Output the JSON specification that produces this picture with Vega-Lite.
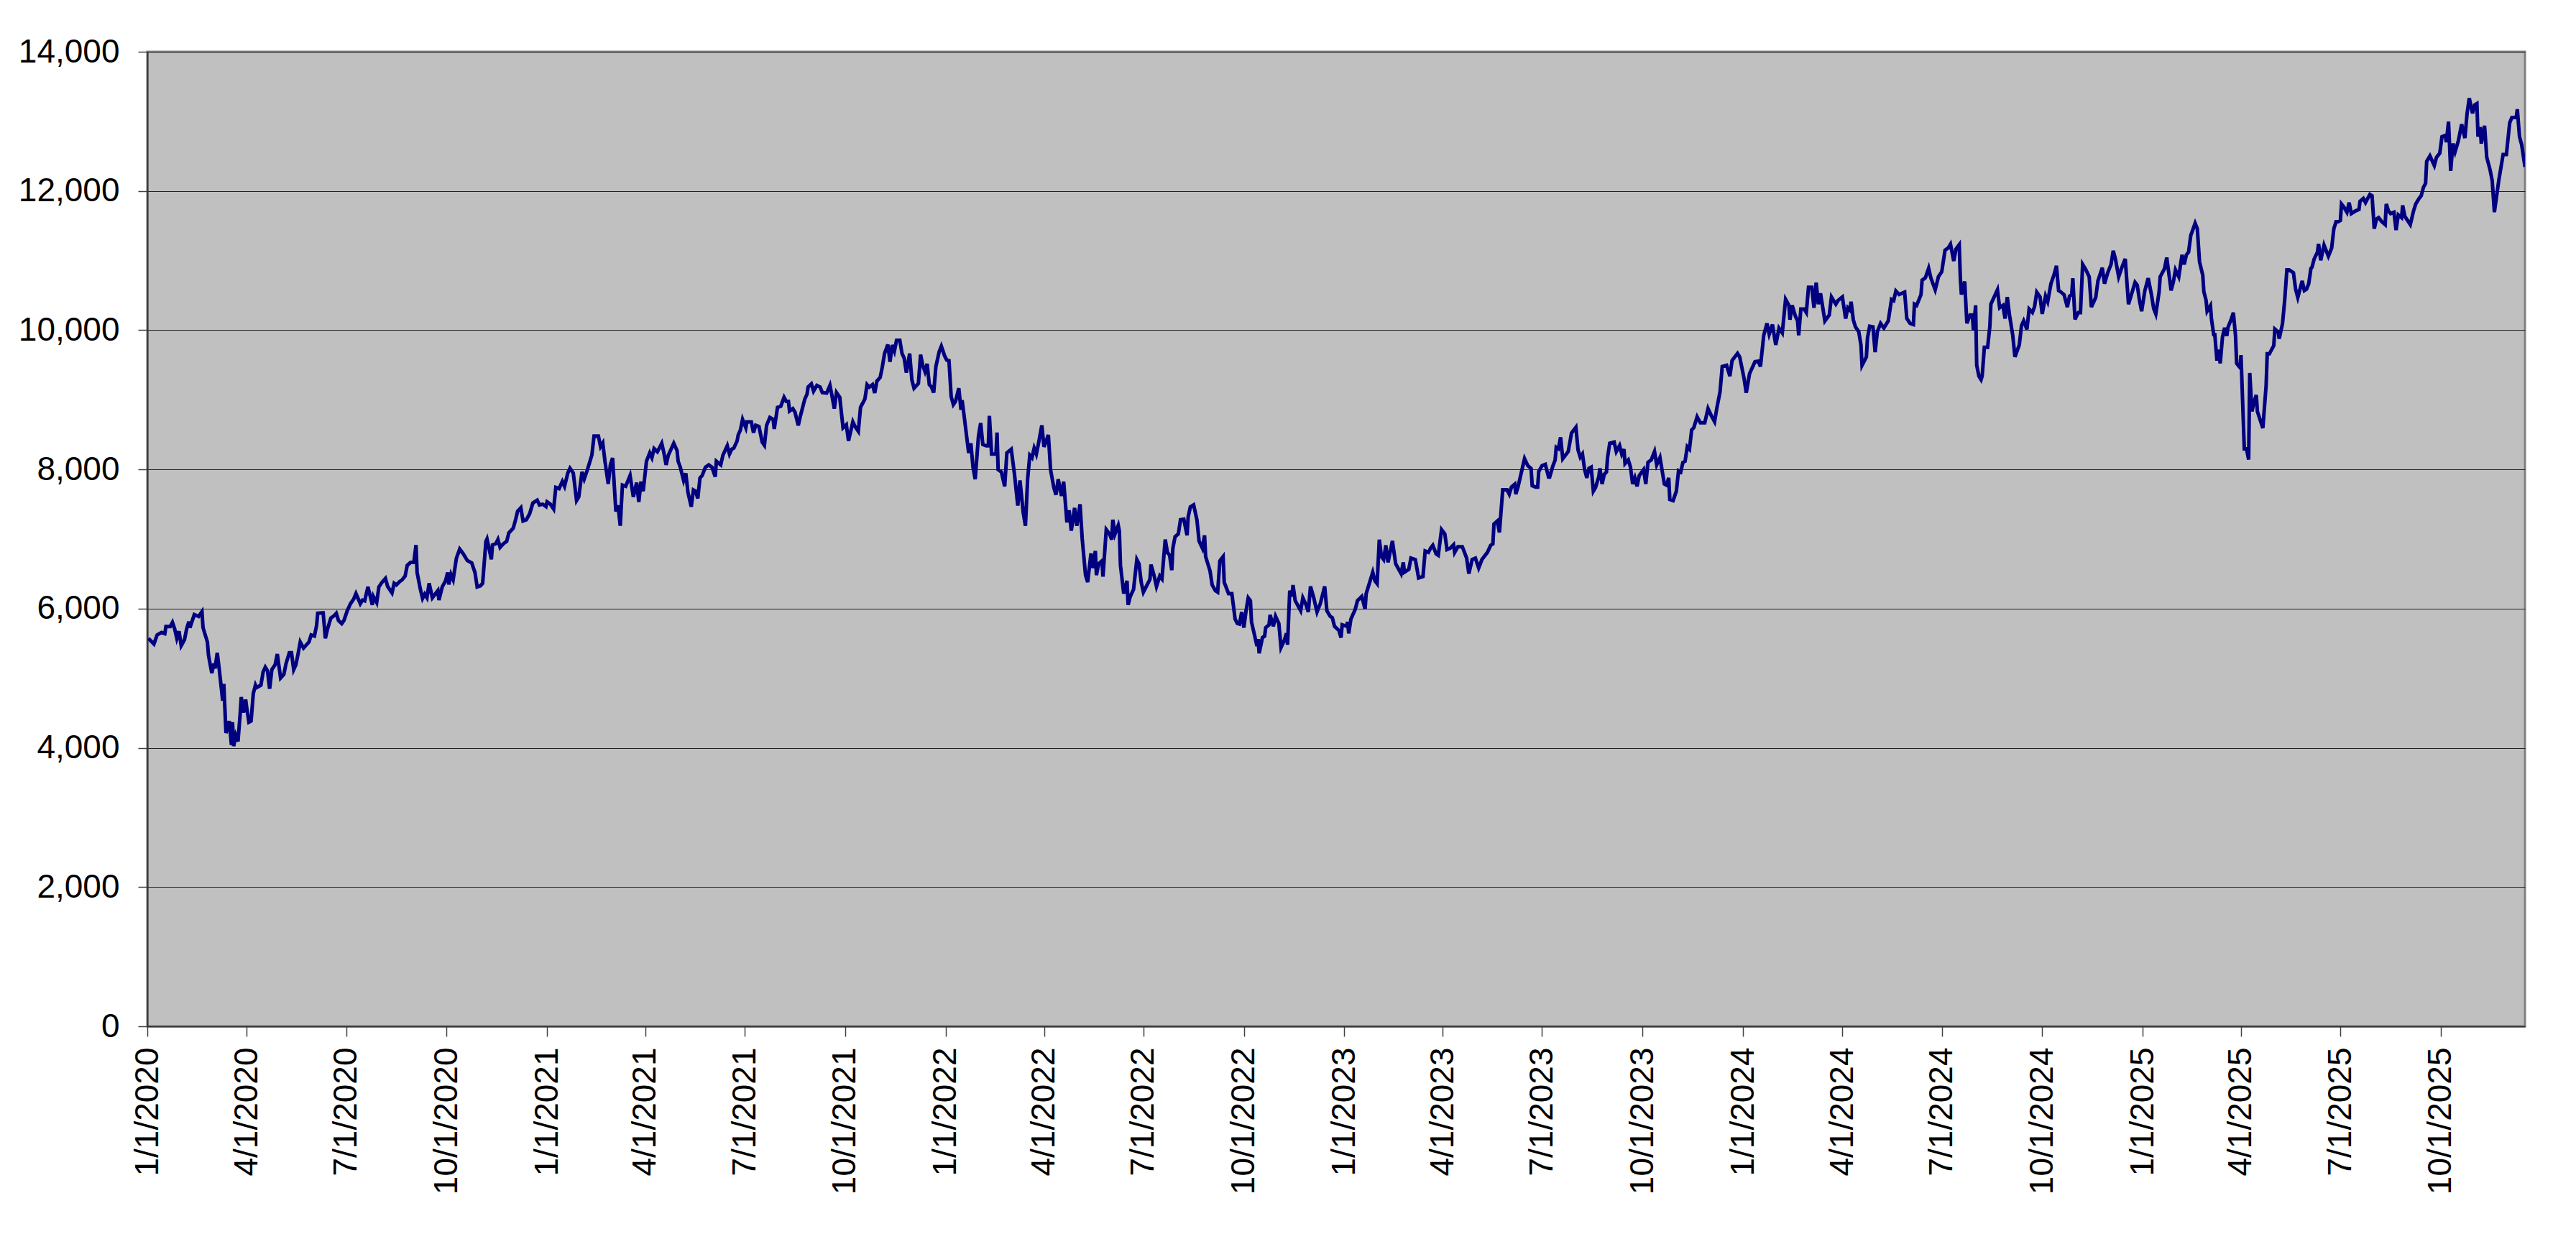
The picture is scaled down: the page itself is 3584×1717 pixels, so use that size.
{
  "$schema": "https://vega.github.io/schema/vega-lite/v6.json",
  "width": 3308,
  "height": 1356,
  "autosize": "none",
  "padding": {"left": 205, "top": 72, "right": 71, "bottom": 289},
  "background": "white",
  "data": {
    "values": [
      {"date":"2020-01-02","value":5572},{"date":"2020-01-07","value":5492},{"date":"2020-01-10","value":5623},{"date":"2020-01-14","value":5657},
      {"date":"2020-01-17","value":5640},{"date":"2020-01-18","value":5743},{"date":"2020-01-22","value":5743},{"date":"2020-01-24","value":5802},
      {"date":"2020-01-26","value":5709},{"date":"2020-01-28","value":5572},{"date":"2020-01-30","value":5675},{"date":"2020-02-01","value":5468},
      {"date":"2020-02-04","value":5554},{"date":"2020-02-06","value":5709},{"date":"2020-02-08","value":5812},{"date":"2020-02-09","value":5726},
      {"date":"2020-02-13","value":5915},{"date":"2020-02-17","value":5888},{"date":"2020-02-20","value":5957},{"date":"2020-02-21","value":5726},
      {"date":"2020-02-25","value":5520},{"date":"2020-02-26","value":5331},{"date":"2020-02-29","value":5073},{"date":"2020-03-02","value":5210},
      {"date":"2020-03-03","value":5141},{"date":"2020-03-05","value":5365},{"date":"2020-03-07","value":5107},{"date":"2020-03-10","value":4677},
      {"date":"2020-03-11","value":4918},{"date":"2020-03-13","value":4213},{"date":"2020-03-15","value":4316},{"date":"2020-03-16","value":4385},
      {"date":"2020-03-18","value":4041},{"date":"2020-03-19","value":4368},{"date":"2020-03-20","value":4024},{"date":"2020-03-22","value":4179},
      {"date":"2020-03-24","value":4093},{"date":"2020-03-26","value":4488},{"date":"2020-03-27","value":4729},{"date":"2020-03-29","value":4505},
      {"date":"2020-03-31","value":4694},{"date":"2020-04-01","value":4574},{"date":"2020-04-03","value":4368},{"date":"2020-04-05","value":4385},
      {"date":"2020-04-07","value":4780},{"date":"2020-04-09","value":4901},{"date":"2020-04-10","value":4866},{"date":"2020-04-14","value":4901},
      {"date":"2020-04-16","value":5090},{"date":"2020-04-18","value":5159},{"date":"2020-04-20","value":5107},{"date":"2020-04-22","value":4849},
      {"date":"2020-04-24","value":5124},{"date":"2020-04-27","value":5193},{"date":"2020-04-29","value":5348},{"date":"2020-05-02","value":5004},
      {"date":"2020-05-05","value":5056},{"date":"2020-05-07","value":5210},{"date":"2020-05-10","value":5365},{"date":"2020-05-12","value":5365},
      {"date":"2020-05-14","value":5124},{"date":"2020-05-16","value":5193},{"date":"2020-05-18","value":5348},{"date":"2020-05-20","value":5520},
      {"date":"2020-05-23","value":5434},{"date":"2020-05-26","value":5486},{"date":"2020-05-28","value":5520},{"date":"2020-05-30","value":5623},
      {"date":"2020-06-02","value":5606},{"date":"2020-06-04","value":5761},{"date":"2020-06-05","value":5933},{"date":"2020-06-09","value":5940},
      {"date":"2020-06-10","value":5940},{"date":"2020-06-12","value":5572},{"date":"2020-06-14","value":5709},{"date":"2020-06-17","value":5864},
      {"date":"2020-06-20","value":5898},{"date":"2020-06-22","value":5933},{"date":"2020-06-24","value":5830},{"date":"2020-06-27","value":5785},
      {"date":"2020-06-29","value":5830},{"date":"2020-07-02","value":5968},{"date":"2020-07-05","value":6071},{"date":"2020-07-08","value":6140},
      {"date":"2020-07-10","value":6216},{"date":"2020-07-14","value":6071},{"date":"2020-07-16","value":6123},{"date":"2020-07-18","value":6112},
      {"date":"2020-07-21","value":6312},{"date":"2020-07-25","value":6054},{"date":"2020-07-26","value":6175},{"date":"2020-07-29","value":6088},
      {"date":"2020-07-31","value":6312},{"date":"2020-08-03","value":6381},{"date":"2020-08-06","value":6433},{"date":"2020-08-08","value":6319},
      {"date":"2020-08-12","value":6226},{"date":"2020-08-14","value":6364},{"date":"2020-08-16","value":6340},{"date":"2020-08-19","value":6388},
      {"date":"2020-08-21","value":6409},{"date":"2020-08-24","value":6467},{"date":"2020-08-26","value":6622},{"date":"2020-08-29","value":6664},
      {"date":"2020-09-01","value":6664},{"date":"2020-09-03","value":6915},{"date":"2020-09-04","value":6519},{"date":"2020-09-07","value":6278},
      {"date":"2020-09-09","value":6147},{"date":"2020-09-11","value":6209},{"date":"2020-09-13","value":6157},{"date":"2020-09-15","value":6364},
      {"date":"2020-09-18","value":6157},{"date":"2020-09-23","value":6260},{"date":"2020-09-24","value":6123},{"date":"2020-09-27","value":6312},
      {"date":"2020-09-30","value":6398},{"date":"2020-10-02","value":6519},{"date":"2020-10-03","value":6347},{"date":"2020-10-05","value":6491},
      {"date":"2020-10-07","value":6416},{"date":"2020-10-10","value":6725},{"date":"2020-10-13","value":6856},{"date":"2020-10-16","value":6794},
      {"date":"2020-10-20","value":6691},{"date":"2020-10-24","value":6657},{"date":"2020-10-27","value":6519},{"date":"2020-10-29","value":6312},
      {"date":"2020-11-01","value":6329},{"date":"2020-11-03","value":6364},{"date":"2020-11-06","value":6966},{"date":"2020-11-07","value":7001},
      {"date":"2020-11-11","value":6708},{"date":"2020-11-12","value":6915},{"date":"2020-11-15","value":6932},{"date":"2020-11-17","value":6994},
      {"date":"2020-11-19","value":6880},{"date":"2020-11-22","value":6932},{"date":"2020-11-25","value":6966},{"date":"2020-11-27","value":7087},
      {"date":"2020-12-01","value":7156},{"date":"2020-12-03","value":7266},{"date":"2020-12-05","value":7397},{"date":"2020-12-08","value":7449},
      {"date":"2020-12-10","value":7259},{"date":"2020-12-13","value":7276},{"date":"2020-12-16","value":7362},{"date":"2020-12-19","value":7517},
      {"date":"2020-12-23","value":7559},{"date":"2020-12-25","value":7490},{"date":"2020-12-28","value":7500},{"date":"2020-12-31","value":7466},
      {"date":"2021-01-01","value":7535},{"date":"2021-01-04","value":7500},{"date":"2021-01-07","value":7431},{"date":"2021-01-09","value":7741},
      {"date":"2021-01-12","value":7724},{"date":"2021-01-15","value":7827},{"date":"2021-01-17","value":7758},{"date":"2021-01-20","value":7948},
      {"date":"2021-01-22","value":8017},{"date":"2021-01-25","value":7948},{"date":"2021-01-28","value":7552},{"date":"2021-01-30","value":7604},
      {"date":"2021-02-02","value":7965},{"date":"2021-02-04","value":7862},{"date":"2021-02-07","value":7999},{"date":"2021-02-11","value":8205},
      {"date":"2021-02-13","value":8480},{"date":"2021-02-17","value":8480},{"date":"2021-02-19","value":8326},{"date":"2021-02-21","value":8378},
      {"date":"2021-02-23","value":8119},{"date":"2021-02-26","value":7792},{"date":"2021-02-28","value":8068},{"date":"2021-03-02","value":8164},
      {"date":"2021-03-05","value":7397},{"date":"2021-03-07","value":7483},{"date":"2021-03-09","value":7190},{"date":"2021-03-11","value":7775},
      {"date":"2021-03-14","value":7758},{"date":"2021-03-18","value":7913},{"date":"2021-03-21","value":7604},{"date":"2021-03-24","value":7810},
      {"date":"2021-03-26","value":7533},{"date":"2021-03-28","value":7825},{"date":"2021-03-30","value":7687},{"date":"2021-04-02","value":8117},
      {"date":"2021-04-05","value":8237},{"date":"2021-04-07","value":8168},{"date":"2021-04-09","value":8299},{"date":"2021-04-12","value":8254},
      {"date":"2021-04-14","value":8313},{"date":"2021-04-16","value":8375},{"date":"2021-04-18","value":8237},{"date":"2021-04-20","value":8065},
      {"date":"2021-04-22","value":8203},{"date":"2021-04-25","value":8306},{"date":"2021-04-27","value":8375},{"date":"2021-04-30","value":8272},
      {"date":"2021-05-01","value":8117},{"date":"2021-05-03","value":8031},{"date":"2021-05-06","value":7842},{"date":"2021-05-08","value":7945},
      {"date":"2021-05-10","value":7670},{"date":"2021-05-13","value":7464},{"date":"2021-05-15","value":7705},{"date":"2021-05-17","value":7687},
      {"date":"2021-05-19","value":7584},{"date":"2021-05-21","value":7877},{"date":"2021-05-23","value":7911},{"date":"2021-05-26","value":8031},
      {"date":"2021-05-29","value":8065},{"date":"2021-06-01","value":8031},{"date":"2021-06-04","value":7894},{"date":"2021-06-05","value":8117},
      {"date":"2021-06-09","value":8065},{"date":"2021-06-11","value":8203},{"date":"2021-06-14","value":8306},{"date":"2021-06-15","value":8340},
      {"date":"2021-06-17","value":8220},{"date":"2021-06-19","value":8289},{"date":"2021-06-21","value":8306},{"date":"2021-06-24","value":8409},
      {"date":"2021-06-25","value":8495},{"date":"2021-06-27","value":8564},{"date":"2021-06-29","value":8719},{"date":"2021-07-02","value":8598},
      {"date":"2021-07-03","value":8684},{"date":"2021-07-07","value":8684},{"date":"2021-07-09","value":8529},{"date":"2021-07-11","value":8633},
      {"date":"2021-07-14","value":8616},{"date":"2021-07-17","value":8392},{"date":"2021-07-19","value":8347},{"date":"2021-07-21","value":8633},
      {"date":"2021-07-24","value":8746},{"date":"2021-07-27","value":8719},{"date":"2021-07-28","value":8581},{"date":"2021-07-31","value":8891},
      {"date":"2021-08-03","value":8908},{"date":"2021-08-06","value":9035},{"date":"2021-08-08","value":8977},{"date":"2021-08-10","value":8977},
      {"date":"2021-08-11","value":8839},{"date":"2021-08-14","value":8873},{"date":"2021-08-16","value":8822},{"date":"2021-08-19","value":8633},
      {"date":"2021-08-21","value":8770},{"date":"2021-08-25","value":9011},{"date":"2021-08-27","value":9080},{"date":"2021-08-28","value":9183},
      {"date":"2021-08-31","value":9228},{"date":"2021-09-02","value":9125},{"date":"2021-09-05","value":9207},{"date":"2021-09-08","value":9183},
      {"date":"2021-09-10","value":9104},{"date":"2021-09-14","value":9097},{"date":"2021-09-17","value":9207},{"date":"2021-09-19","value":9046},
      {"date":"2021-09-21","value":8873},{"date":"2021-09-23","value":9104},{"date":"2021-09-26","value":9035},{"date":"2021-09-29","value":8598},
      {"date":"2021-10-02","value":8643},{"date":"2021-10-04","value":8409},{"date":"2021-10-08","value":8684},{"date":"2021-10-10","value":8616},
      {"date":"2021-10-13","value":8547},{"date":"2021-10-15","value":8891},{"date":"2021-10-19","value":9011},{"date":"2021-10-21","value":9218},
      {"date":"2021-10-23","value":9183},{"date":"2021-10-26","value":9218},{"date":"2021-10-28","value":9097},{"date":"2021-10-30","value":9269},
      {"date":"2021-11-02","value":9321},{"date":"2021-11-04","value":9476},{"date":"2021-11-06","value":9665},{"date":"2021-11-09","value":9793},
      {"date":"2021-11-11","value":9545},{"date":"2021-11-13","value":9786},{"date":"2021-11-15","value":9700},{"date":"2021-11-17","value":9855},
      {"date":"2021-11-20","value":9855},{"date":"2021-11-22","value":9665},{"date":"2021-11-24","value":9596},{"date":"2021-11-26","value":9390},
      {"date":"2021-11-29","value":9665},{"date":"2021-12-01","value":9287},{"date":"2021-12-03","value":9166},{"date":"2021-12-07","value":9235},
      {"date":"2021-12-09","value":9648},{"date":"2021-12-11","value":9493},{"date":"2021-12-13","value":9407},{"date":"2021-12-15","value":9517},
      {"date":"2021-12-17","value":9218},{"date":"2021-12-19","value":9183},{"date":"2021-12-21","value":9104},{"date":"2021-12-23","value":9476},
      {"date":"2021-12-26","value":9689},{"date":"2021-12-28","value":9769},{"date":"2021-12-31","value":9631},{"date":"2022-01-02","value":9569},
      {"date":"2022-01-04","value":9562},{"date":"2022-01-06","value":9046},{"date":"2022-01-08","value":8932},{"date":"2022-01-10","value":8977},
      {"date":"2022-01-13","value":9166},{"date":"2022-01-15","value":8856},{"date":"2022-01-16","value":8994},{"date":"2022-01-18","value":8753},
      {"date":"2022-01-22","value":8237},{"date":"2022-01-24","value":8375},{"date":"2022-01-26","value":8031},{"date":"2022-01-28","value":7859},
      {"date":"2022-01-31","value":8478},{"date":"2022-02-02","value":8667},{"date":"2022-02-04","value":8358},{"date":"2022-02-07","value":8340},
      {"date":"2022-02-09","value":8340},{"date":"2022-02-10","value":8770},{"date":"2022-02-12","value":8220},{"date":"2022-02-16","value":8220},
      {"date":"2022-02-17","value":8529},{"date":"2022-02-18","value":7997},{"date":"2022-02-21","value":7962},{"date":"2022-02-24","value":7756},
      {"date":"2022-02-26","value":8237},{"date":"2022-03-02","value":8289},{"date":"2022-03-05","value":7928},{"date":"2022-03-08","value":7481},
      {"date":"2022-03-10","value":7842},{"date":"2022-03-13","value":7378},{"date":"2022-03-15","value":7189},{"date":"2022-03-17","value":7859},
      {"date":"2022-03-19","value":8203},{"date":"2022-03-21","value":8168},{"date":"2022-03-23","value":8306},{"date":"2022-03-25","value":8220},
      {"date":"2022-03-27","value":8375},{"date":"2022-03-30","value":8633},{"date":"2022-04-01","value":8323},{"date":"2022-04-05","value":8495},
      {"date":"2022-04-07","value":7997},{"date":"2022-04-10","value":7739},{"date":"2022-04-12","value":7636},{"date":"2022-04-14","value":7859},
      {"date":"2022-04-17","value":7619},{"date":"2022-04-19","value":7825},{"date":"2022-04-22","value":7240},{"date":"2022-04-24","value":7412},
      {"date":"2022-04-26","value":7120},{"date":"2022-04-29","value":7447},{"date":"2022-05-01","value":7189},{"date":"2022-05-04","value":7499},
      {"date":"2022-05-06","value":7000},{"date":"2022-05-09","value":6483},{"date":"2022-05-11","value":6380},{"date":"2022-05-14","value":6793},
      {"date":"2022-05-16","value":6584},{"date":"2022-05-18","value":6828},{"date":"2022-05-19","value":6481},{"date":"2022-05-21","value":6644},
      {"date":"2022-05-24","value":6686},{"date":"2022-05-25","value":6461},{"date":"2022-05-28","value":7135},{"date":"2022-05-31","value":7073},
      {"date":"2022-06-02","value":6992},{"date":"2022-06-03","value":7277},{"date":"2022-06-05","value":7073},{"date":"2022-06-08","value":7196},
      {"date":"2022-06-09","value":7114},{"date":"2022-06-10","value":6624},{"date":"2022-06-13","value":6216},{"date":"2022-06-16","value":6400},
      {"date":"2022-06-17","value":6053},{"date":"2022-06-19","value":6175},{"date":"2022-06-22","value":6277},{"date":"2022-06-25","value":6705},
      {"date":"2022-06-27","value":6644},{"date":"2022-06-29","value":6379},{"date":"2022-07-01","value":6237},{"date":"2022-07-03","value":6298},
      {"date":"2022-07-07","value":6420},{"date":"2022-07-08","value":6633},{"date":"2022-07-11","value":6461},{"date":"2022-07-13","value":6319},
      {"date":"2022-07-16","value":6469},{"date":"2022-07-18","value":6428},{"date":"2022-07-21","value":6992},{"date":"2022-07-23","value":6808},
      {"date":"2022-07-25","value":6767},{"date":"2022-07-27","value":6551},{"date":"2022-07-28","value":6869},{"date":"2022-07-30","value":7033},
      {"date":"2022-08-02","value":7073},{"date":"2022-08-04","value":7277},{"date":"2022-08-07","value":7285},{"date":"2022-08-10","value":7053},
      {"date":"2022-08-11","value":7318},{"date":"2022-08-13","value":7461},{"date":"2022-08-16","value":7490},{"date":"2022-08-19","value":7277},
      {"date":"2022-08-21","value":6972},{"date":"2022-08-24","value":6869},{"date":"2022-08-26","value":7053},{"date":"2022-08-27","value":6747},
      {"date":"2022-08-31","value":6542},{"date":"2022-09-02","value":6339},{"date":"2022-09-05","value":6257},{"date":"2022-09-07","value":6237},
      {"date":"2022-09-09","value":6686},{"date":"2022-09-12","value":6747},{"date":"2022-09-13","value":6379},{"date":"2022-09-15","value":6298},
      {"date":"2022-09-17","value":6216},{"date":"2022-09-20","value":6216},{"date":"2022-09-23","value":5849},{"date":"2022-09-25","value":5788},
      {"date":"2022-09-27","value":5779},{"date":"2022-09-29","value":5951},{"date":"2022-10-01","value":5727},{"date":"2022-10-03","value":5971},
      {"date":"2022-10-05","value":6155},{"date":"2022-10-07","value":6114},{"date":"2022-10-08","value":5808},{"date":"2022-10-11","value":5604},
      {"date":"2022-10-13","value":5461},{"date":"2022-10-14","value":5563},{"date":"2022-10-15","value":5359},{"date":"2022-10-18","value":5584},
      {"date":"2022-10-20","value":5604},{"date":"2022-10-21","value":5727},{"date":"2022-10-24","value":5767},{"date":"2022-10-25","value":5910},
      {"date":"2022-10-28","value":5747},{"date":"2022-10-30","value":5890},{"date":"2022-11-02","value":5788},{"date":"2022-11-04","value":5441},
      {"date":"2022-11-07","value":5543},{"date":"2022-11-09","value":5644},{"date":"2022-11-10","value":5482},{"date":"2022-11-12","value":6257},
      {"date":"2022-11-14","value":6175},{"date":"2022-11-15","value":6339},{"date":"2022-11-17","value":6114},{"date":"2022-11-22","value":5971},
      {"date":"2022-11-24","value":6155},{"date":"2022-11-27","value":6053},{"date":"2022-11-29","value":5951},{"date":"2022-12-01","value":6319},
      {"date":"2022-12-04","value":6155},{"date":"2022-12-07","value":5951},{"date":"2022-12-10","value":6073},{"date":"2022-12-14","value":6319},
      {"date":"2022-12-16","value":5971},{"date":"2022-12-19","value":5890},{"date":"2022-12-21","value":5869},{"date":"2022-12-23","value":5747},
      {"date":"2022-12-27","value":5686},{"date":"2022-12-29","value":5584},{"date":"2022-12-30","value":5767},{"date":"2023-01-03","value":5747},
      {"date":"2023-01-04","value":5808},{"date":"2023-01-05","value":5644},{"date":"2023-01-07","value":5849},{"date":"2023-01-11","value":5992},
      {"date":"2023-01-13","value":6114},{"date":"2023-01-17","value":6175},{"date":"2023-01-20","value":5992},{"date":"2023-01-21","value":6216},
      {"date":"2023-01-25","value":6420},{"date":"2023-01-27","value":6523},{"date":"2023-01-29","value":6400},{"date":"2023-01-31","value":6359},
      {"date":"2023-02-02","value":6992},{"date":"2023-02-04","value":6747},{"date":"2023-02-06","value":6705},{"date":"2023-02-08","value":6910},
      {"date":"2023-02-10","value":6665},{"date":"2023-02-14","value":6972},{"date":"2023-02-17","value":6644},{"date":"2023-02-22","value":6502},
      {"date":"2023-02-24","value":6665},{"date":"2023-02-25","value":6523},{"date":"2023-03-01","value":6564},{"date":"2023-03-03","value":6726},
      {"date":"2023-03-07","value":6705},{"date":"2023-03-10","value":6441},{"date":"2023-03-14","value":6461},{"date":"2023-03-16","value":6828},
      {"date":"2023-03-19","value":6808},{"date":"2023-03-21","value":6869},{"date":"2023-03-23","value":6910},{"date":"2023-03-26","value":6788},
      {"date":"2023-03-28","value":6767},{"date":"2023-03-31","value":7135},{"date":"2023-04-03","value":7073},{"date":"2023-04-05","value":6849},
      {"date":"2023-04-08","value":6869},{"date":"2023-04-11","value":6918},{"date":"2023-04-12","value":6808},{"date":"2023-04-15","value":6890},
      {"date":"2023-04-19","value":6890},{"date":"2023-04-22","value":6767},{"date":"2023-04-23","value":6726},{"date":"2023-04-25","value":6502},
      {"date":"2023-04-28","value":6705},{"date":"2023-05-01","value":6726},{"date":"2023-05-04","value":6584},{"date":"2023-05-07","value":6705},
      {"date":"2023-05-10","value":6767},{"date":"2023-05-12","value":6808},{"date":"2023-05-15","value":6910},{"date":"2023-05-17","value":6930},
      {"date":"2023-05-18","value":7216},{"date":"2023-05-21","value":7257},{"date":"2023-05-23","value":7094},{"date":"2023-05-26","value":7706},
      {"date":"2023-05-30","value":7706},{"date":"2023-06-01","value":7645},{"date":"2023-06-03","value":7747},{"date":"2023-06-06","value":7787},
      {"date":"2023-06-07","value":7645},{"date":"2023-06-09","value":7747},{"date":"2023-06-12","value":7951},{"date":"2023-06-15","value":8155},
      {"date":"2023-06-18","value":8053},{"date":"2023-06-21","value":8012},{"date":"2023-06-22","value":7767},{"date":"2023-06-25","value":7747},
      {"date":"2023-06-27","value":7747},{"date":"2023-06-28","value":7971},{"date":"2023-07-01","value":8053},{"date":"2023-07-04","value":8073},
      {"date":"2023-07-07","value":7890},{"date":"2023-07-08","value":7890},{"date":"2023-07-11","value":8053},{"date":"2023-07-13","value":8135},
      {"date":"2023-07-14","value":8318},{"date":"2023-07-16","value":8298},{"date":"2023-07-18","value":8461},{"date":"2023-07-20","value":8155},
      {"date":"2023-07-22","value":8196},{"date":"2023-07-25","value":8257},{"date":"2023-07-28","value":8522},{"date":"2023-08-01","value":8604},
      {"date":"2023-08-03","value":8278},{"date":"2023-08-05","value":8176},{"date":"2023-08-07","value":8221},{"date":"2023-08-09","value":7998},
      {"date":"2023-08-11","value":7878},{"date":"2023-08-13","value":8015},{"date":"2023-08-15","value":8032},{"date":"2023-08-17","value":7688},
      {"date":"2023-08-19","value":7740},{"date":"2023-08-22","value":7895},{"date":"2023-08-23","value":8015},{"date":"2023-08-25","value":7791},
      {"date":"2023-08-27","value":7929},{"date":"2023-08-29","value":7964},{"date":"2023-08-30","value":8170},{"date":"2023-09-01","value":8377},
      {"date":"2023-09-05","value":8394},{"date":"2023-09-07","value":8256},{"date":"2023-09-10","value":8342},{"date":"2023-09-12","value":8221},
      {"date":"2023-09-14","value":8290},{"date":"2023-09-15","value":8084},{"date":"2023-09-18","value":8136},{"date":"2023-09-20","value":8032},
      {"date":"2023-09-22","value":7791},{"date":"2023-09-24","value":7878},{"date":"2023-09-26","value":7757},{"date":"2023-09-28","value":7912},
      {"date":"2023-10-02","value":7998},{"date":"2023-10-04","value":7791},{"date":"2023-10-06","value":8101},{"date":"2023-10-09","value":8136},
      {"date":"2023-10-12","value":8256},{"date":"2023-10-14","value":8067},{"date":"2023-10-17","value":8170},{"date":"2023-10-21","value":7791},
      {"date":"2023-10-23","value":7774},{"date":"2023-10-25","value":7878},{"date":"2023-10-26","value":7568},{"date":"2023-10-29","value":7551},
      {"date":"2023-11-01","value":7688},{"date":"2023-11-03","value":7981},{"date":"2023-11-05","value":7964},{"date":"2023-11-07","value":8101},
      {"date":"2023-11-09","value":8118},{"date":"2023-11-11","value":8325},{"date":"2023-11-13","value":8290},{"date":"2023-11-15","value":8566},
      {"date":"2023-11-17","value":8600},{"date":"2023-11-20","value":8755},{"date":"2023-11-23","value":8669},{"date":"2023-11-27","value":8669},
      {"date":"2023-11-30","value":8875},{"date":"2023-12-03","value":8772},{"date":"2023-12-06","value":8686},{"date":"2023-12-08","value":8875},
      {"date":"2023-12-11","value":9116},{"date":"2023-12-13","value":9478},{"date":"2023-12-17","value":9495},{"date":"2023-12-20","value":9340},
      {"date":"2023-12-22","value":9564},{"date":"2023-12-27","value":9667},{"date":"2023-12-29","value":9616},{"date":"2024-01-02","value":9306},
      {"date":"2024-01-04","value":9099},{"date":"2024-01-07","value":9375},{"date":"2024-01-12","value":9547},{"date":"2024-01-15","value":9554},
      {"date":"2024-01-17","value":9478},{"date":"2024-01-20","value":9926},{"date":"2024-01-23","value":10098},{"date":"2024-01-25","value":9943},
      {"date":"2024-01-28","value":10081},{"date":"2024-01-31","value":9788},{"date":"2024-02-03","value":10030},{"date":"2024-02-06","value":9961},
      {"date":"2024-02-09","value":10443},{"date":"2024-02-12","value":10357},{"date":"2024-02-13","value":10150},{"date":"2024-02-15","value":10357},
      {"date":"2024-02-18","value":10202},{"date":"2024-02-20","value":10133},{"date":"2024-02-21","value":9926},{"date":"2024-02-23","value":10305},
      {"date":"2024-02-26","value":10305},{"date":"2024-02-28","value":10254},{"date":"2024-03-01","value":10615},{"date":"2024-03-04","value":10615},
      {"date":"2024-03-06","value":10322},{"date":"2024-03-08","value":10684},{"date":"2024-03-10","value":10374},{"date":"2024-03-12","value":10529},
      {"date":"2024-03-16","value":10133},{"date":"2024-03-20","value":10219},{"date":"2024-03-22","value":10477},{"date":"2024-03-26","value":10374},
      {"date":"2024-03-28","value":10426},{"date":"2024-04-01","value":10477},{"date":"2024-04-04","value":10167},{"date":"2024-04-06","value":10322},
      {"date":"2024-04-08","value":10288},{"date":"2024-04-09","value":10409},{"date":"2024-04-11","value":10150},{"date":"2024-04-13","value":10047},
      {"date":"2024-04-16","value":9978},{"date":"2024-04-18","value":9788},{"date":"2024-04-19","value":9495},{"date":"2024-04-23","value":9616},
      {"date":"2024-04-24","value":9891},{"date":"2024-04-26","value":10057},{"date":"2024-04-29","value":10047},{"date":"2024-05-01","value":9685},
      {"date":"2024-05-03","value":9978},{"date":"2024-05-06","value":10098},{"date":"2024-05-09","value":10030},{"date":"2024-05-13","value":10133},
      {"date":"2024-05-16","value":10443},{"date":"2024-05-18","value":10426},{"date":"2024-05-20","value":10563},{"date":"2024-05-23","value":10512},
      {"date":"2024-05-28","value":10546},{"date":"2024-05-30","value":10167},{"date":"2024-06-02","value":10098},{"date":"2024-06-05","value":10081},
      {"date":"2024-06-06","value":10374},{"date":"2024-06-08","value":10357},{"date":"2024-06-12","value":10512},{"date":"2024-06-13","value":10718},
      {"date":"2024-06-16","value":10753},{"date":"2024-06-19","value":10890},{"date":"2024-06-21","value":10753},{"date":"2024-06-25","value":10580},
      {"date":"2024-06-28","value":10770},{"date":"2024-07-01","value":10839},{"date":"2024-07-04","value":11149},{"date":"2024-07-07","value":11183},
      {"date":"2024-07-09","value":11235},{"date":"2024-07-12","value":10994},{"date":"2024-07-14","value":11166},{"date":"2024-07-17","value":11228},
      {"date":"2024-07-18","value":10753},{"date":"2024-07-19","value":10512},{"date":"2024-07-22","value":10701},{"date":"2024-07-24","value":10098},
      {"date":"2024-07-27","value":10219},{"date":"2024-07-29","value":10219},{"date":"2024-07-30","value":9995},{"date":"2024-08-01","value":10357},
      {"date":"2024-08-02","value":9495},{"date":"2024-08-04","value":9340},{"date":"2024-08-06","value":9289},{"date":"2024-08-07","value":9340},
      {"date":"2024-08-09","value":9754},{"date":"2024-08-12","value":9754},{"date":"2024-08-14","value":10047},{"date":"2024-08-15","value":10374},
      {"date":"2024-08-19","value":10512},{"date":"2024-08-21","value":10580},{"date":"2024-08-23","value":10322},{"date":"2024-08-26","value":10357},
      {"date":"2024-08-28","value":10167},{"date":"2024-08-30","value":10477},{"date":"2024-09-01","value":10219},{"date":"2024-09-04","value":9926},
      {"date":"2024-09-06","value":9616},{"date":"2024-09-10","value":9788},{"date":"2024-09-12","value":10064},{"date":"2024-09-14","value":10133},
      {"date":"2024-09-17","value":10012},{"date":"2024-09-19","value":10305},{"date":"2024-09-22","value":10254},{"date":"2024-09-24","value":10340},
      {"date":"2024-09-26","value":10546},{"date":"2024-09-29","value":10477},{"date":"2024-10-01","value":10233},{"date":"2024-10-04","value":10490},
      {"date":"2024-10-06","value":10411},{"date":"2024-10-09","value":10668},{"date":"2024-10-12","value":10806},{"date":"2024-10-14","value":10925},
      {"date":"2024-10-16","value":10570},{"date":"2024-10-18","value":10550},{"date":"2024-10-21","value":10510},{"date":"2024-10-24","value":10332},
      {"date":"2024-10-26","value":10490},{"date":"2024-10-28","value":10510},{"date":"2024-10-29","value":10747},{"date":"2024-10-31","value":10155},
      {"date":"2024-11-03","value":10253},{"date":"2024-11-05","value":10253},{"date":"2024-11-07","value":10945},{"date":"2024-11-10","value":10866},
      {"date":"2024-11-13","value":10767},{"date":"2024-11-15","value":10332},{"date":"2024-11-19","value":10470},{"date":"2024-11-21","value":10708},
      {"date":"2024-11-25","value":10897},{"date":"2024-11-27","value":10668},{"date":"2024-11-30","value":10826},{"date":"2024-12-03","value":10945},
      {"date":"2024-12-05","value":11142},{"date":"2024-12-07","value":11024},{"date":"2024-12-10","value":10767},{"date":"2024-12-13","value":10905},
      {"date":"2024-12-16","value":11024},{"date":"2024-12-19","value":10372},{"date":"2024-12-22","value":10530},{"date":"2024-12-25","value":10688},
      {"date":"2024-12-27","value":10648},{"date":"2024-12-29","value":10431},{"date":"2024-12-31","value":10273},{"date":"2025-01-03","value":10570},
      {"date":"2025-01-06","value":10747},{"date":"2025-01-09","value":10510},{"date":"2025-01-11","value":10313},{"date":"2025-01-13","value":10233},
      {"date":"2025-01-16","value":10550},{"date":"2025-01-17","value":10767},{"date":"2025-01-21","value":10886},{"date":"2025-01-23","value":11043},
      {"date":"2025-01-27","value":10570},{"date":"2025-01-29","value":10688},{"date":"2025-01-31","value":10866},{"date":"2025-02-03","value":10767},
      {"date":"2025-02-06","value":11083},{"date":"2025-02-08","value":10945},{"date":"2025-02-10","value":11083},{"date":"2025-02-12","value":11122},
      {"date":"2025-02-14","value":11360},{"date":"2025-02-18","value":11537},{"date":"2025-02-20","value":11458},{"date":"2025-02-22","value":10985},
      {"date":"2025-02-25","value":10787},{"date":"2025-02-26","value":10550},{"date":"2025-02-28","value":10431},{"date":"2025-03-01","value":10273},
      {"date":"2025-03-04","value":10352},{"date":"2025-03-05","value":10155},{"date":"2025-03-07","value":9937},{"date":"2025-03-08","value":9937},
      {"date":"2025-03-10","value":9562},{"date":"2025-03-11","value":9720},{"date":"2025-03-13","value":9523},{"date":"2025-03-15","value":9898},
      {"date":"2025-03-17","value":10036},{"date":"2025-03-19","value":9917},{"date":"2025-03-20","value":10036},{"date":"2025-03-23","value":10155},
      {"date":"2025-03-25","value":10253},{"date":"2025-03-27","value":9917},{"date":"2025-03-28","value":9523},{"date":"2025-03-31","value":9464},
      {"date":"2025-04-01","value":9641},{"date":"2025-04-04","value":8297},{"date":"2025-04-06","value":8297},{"date":"2025-04-08","value":8140},
      {"date":"2025-04-09","value":9385},{"date":"2025-04-11","value":8833},{"date":"2025-04-13","value":8970},{"date":"2025-04-15","value":9069},
      {"date":"2025-04-16","value":8833},{"date":"2025-04-21","value":8594},{"date":"2025-04-24","value":9206},{"date":"2025-04-25","value":9660},
      {"date":"2025-04-27","value":9660},{"date":"2025-05-01","value":9779},{"date":"2025-05-02","value":10016},{"date":"2025-05-05","value":9976},
      {"date":"2025-05-06","value":9877},{"date":"2025-05-09","value":10095},{"date":"2025-05-11","value":10431},{"date":"2025-05-13","value":10866},
      {"date":"2025-05-15","value":10866},{"date":"2025-05-19","value":10826},{"date":"2025-05-21","value":10590},{"date":"2025-05-23","value":10470},
      {"date":"2025-05-27","value":10708},{"date":"2025-05-29","value":10570},{"date":"2025-05-31","value":10590},{"date":"2025-06-02","value":10668},
      {"date":"2025-06-04","value":10886},{"date":"2025-06-05","value":10905},{"date":"2025-06-07","value":11024},{"date":"2025-06-10","value":11122},
      {"date":"2025-06-11","value":11241},{"date":"2025-06-13","value":11004},{"date":"2025-06-16","value":11221},{"date":"2025-06-20","value":11063},
      {"date":"2025-06-23","value":11181},{"date":"2025-06-25","value":11458},{"date":"2025-06-27","value":11557},{"date":"2025-06-29","value":11557},
      {"date":"2025-07-01","value":11576},{"date":"2025-07-02","value":11813},{"date":"2025-07-04","value":11774},{"date":"2025-07-07","value":11695},
      {"date":"2025-07-09","value":11833},{"date":"2025-07-11","value":11675},{"date":"2025-07-15","value":11715},{"date":"2025-07-18","value":11734},
      {"date":"2025-07-19","value":11853},{"date":"2025-07-22","value":11892},{"date":"2025-07-24","value":11833},{"date":"2025-07-26","value":11892},
      {"date":"2025-07-28","value":11951},{"date":"2025-07-30","value":11931},{"date":"2025-08-01","value":11458},{"date":"2025-08-03","value":11596},
      {"date":"2025-08-05","value":11616},{"date":"2025-08-08","value":11557},{"date":"2025-08-11","value":11517},{"date":"2025-08-12","value":11813},
      {"date":"2025-08-14","value":11715},{"date":"2025-08-16","value":11675},{"date":"2025-08-19","value":11695},{"date":"2025-08-21","value":11438},
      {"date":"2025-08-23","value":11655},{"date":"2025-08-26","value":11616},{"date":"2025-08-27","value":11793},{"date":"2025-08-29","value":11636},
      {"date":"2025-09-03","value":11517},{"date":"2025-09-06","value":11715},{"date":"2025-09-08","value":11813},{"date":"2025-09-11","value":11892},
      {"date":"2025-09-13","value":11931},{"date":"2025-09-15","value":12050},{"date":"2025-09-17","value":12109},{"date":"2025-09-18","value":12425},
      {"date":"2025-09-21","value":12504},{"date":"2025-09-25","value":12366},{"date":"2025-09-27","value":12484},{"date":"2025-09-30","value":12543},
      {"date":"2025-10-02","value":12780},{"date":"2025-10-05","value":12800},{"date":"2025-10-06","value":12701},{"date":"2025-10-08","value":12997},
      {"date":"2025-10-10","value":12287},{"date":"2025-10-12","value":12681},{"date":"2025-10-14","value":12563},{"date":"2025-10-17","value":12721},
      {"date":"2025-10-20","value":12958},{"date":"2025-10-23","value":12760},{"date":"2025-10-25","value":13115},{"date":"2025-10-27","value":13334},
      {"date":"2025-10-30","value":13115},{"date":"2025-11-01","value":13234},{"date":"2025-11-03","value":13254},{"date":"2025-11-04","value":12780},
      {"date":"2025-11-06","value":12918},{"date":"2025-11-07","value":12681},{"date":"2025-11-10","value":12938},{"date":"2025-11-12","value":12484},
      {"date":"2025-11-15","value":12307},{"date":"2025-11-17","value":12149},{"date":"2025-11-19","value":11695},{"date":"2025-11-23","value":12149},
      {"date":"2025-11-27","value":12524},{"date":"2025-11-30","value":12524},{"date":"2025-12-03","value":12977},{"date":"2025-12-05","value":13056},
      {"date":"2025-12-09","value":13056},{"date":"2025-12-10","value":13174},{"date":"2025-12-12","value":12780},{"date":"2025-12-14","value":12662},
      {"date":"2025-12-17","value":12346}
    ]
  },
  "mark": {"type": "line", "color": "#000080", "strokeWidth": 5, "clip": true},
  "encoding": {
    "x": {
      "field": "date",
      "type": "temporal",
      "title": null,
      "scale": {
        "type": "utc",
        "domain": [
          {"year": 2020, "month": 1, "date": 1, "utc": true},
          {"year": 2025, "month": 12, "date": 17, "utc": true}
        ],
        "nice": false
      },
      "axis": {
        "format": "%-m/%-d/%Y",
        "tickCount": {"interval": "month", "step": 3},
        "labelAngle": 270,
        "labelFontSize": 46,
        "labelFont": "Liberation Sans",
        "labelColor": "#000000",
        "labelPadding": 15,
        "labelLimit": 0,
        "labelOverlap": false,
        "labelFlush": false,
        "labelBound": false,
        "tickSize": 14,
        "tickColor": "#404040",
        "tickWidth": 1.5,
        "domainColor": "#333333",
        "domainWidth": 2,
        "grid": false
      }
    },
    "y": {
      "field": "value",
      "type": "quantitative",
      "title": null,
      "scale": {"domain": [0, 14000], "nice": false, "zero": true},
      "axis": {
        "values": [0, 2000, 4000, 6000, 8000, 10000, 12000, 14000],
        "format": ",.0f",
        "labelFontSize": 46,
        "labelFont": "Liberation Sans",
        "labelColor": "#000000",
        "labelPadding": 26,
        "labelLimit": 0,
        "tickSize": 13,
        "tickColor": "#404040",
        "tickWidth": 1.5,
        "domainColor": "#333333",
        "domainWidth": 2,
        "grid": true,
        "gridColor": "#222222",
        "gridWidth": 1.2
      }
    }
  },
  "config": {
    "view": {"fill": "#c0c0c0", "stroke": "#808080", "strokeWidth": 3}
  }
}
